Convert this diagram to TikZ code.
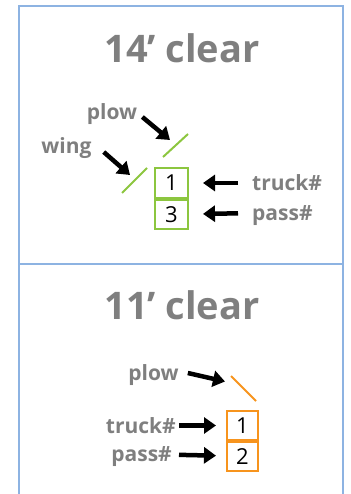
\documentclass[tikz,border=0pt]{standalone}
\usepackage{fontspec}
\setmainfont{Open Sans}
\usepackage{tikz}
\usetikzlibrary{arrows}
\usetikzlibrary{arrows.meta}
\usepackage{xcolor}
\definecolor{framebl}{HTML}{8DB3E2}
\definecolor{labgray}{HTML}{7F7F7F}
\definecolor{plowgr}{HTML}{8CC63F}
\definecolor{plowor}{HTML}{F7941D}
\newcommand{\clearsize}{\fontsize{38}{38}\selectfont\bfseries}
\newcommand{\labsize}{\fontsize{21}{21}\selectfont\bfseries}
\newcommand{\cellsize}{\fontsize{22}{22}\selectfont}

\begin{document}
\begin{tikzpicture}[x=1pt,y=-1pt]
\tikzstyle{every node}=[inner sep=0pt]
\tikzstyle{title}=[text=labgray,font=\clearsize]
\tikzstyle{lab}=[text=labgray,font=\labsize,text height=15pt,text depth=0pt]
\tikzstyle{cell}=[draw,line width=2pt,font=\cellsize,text height=15.5pt,text depth=0pt]
\tikzstyle{blade}=[line width=2pt]
\tikzstyle{arr}=[line width=4.5pt,-{Triangle[length=12pt,width=16pt]}]
\useasboundingbox (0,0) rectangle (350,494);
\draw[framebl,line width=2pt] (19,520) -- (19,6) -- (343,6) -- (343,520);
\draw[framebl,line width=2pt] (19,264) -- (343,264);
\node[title] (hdA) at (182,48) {14’ clear};
\node[cell,plowgr,text=black,minimum width=33pt,minimum height=30pt] (cA1) at (171.5,183) {1};
\node[cell,plowgr,text=black,minimum width=33pt,minimum height=29pt,anchor=north] (cA2) at (cA1.south) {3};
\node[lab,anchor=west] (truckA) at (252,183) {truck\#};
\node[lab,anchor=west] (passA) at (252,212.5) {pass\#};
\path (truckA) edge[arr,shorten <=14pt,shorten >=14pt] (cA1);
\path (passA) edge[arr,shorten <=14pt,shorten >=14pt] (cA2);
\node[lab] (plowA) at (112,112) {plow};
\node[lab] (wingA) at (66.5,146) {wing};
\draw[plowgr,blade] (163,157) -- (188,134);
\draw[plowgr,blade] (122,193) -- (147,168);
\coordinate (tipP) at (170,140);
\coordinate (tipW) at (130,175);
\draw[arr] ([shift={(5,5)}]plowA.east) -- (tipP);
\draw[arr] ([shift={(12,6)}]wingA.east) -- (tipW);
\node[title] (hdB) at (182,305) {11’ clear};
\node[cell,plowor,text=black,minimum width=31pt,minimum height=29pt] (cB1) at (242.5,425.5) {1};
\node[cell,plowor,text=black,minimum width=31pt,minimum height=28.5pt,anchor=north] (cB2) at (cB1.south) {2};
\node[lab,anchor=east] (truckB) at (176,425.5) {truck\#};
\node[lab,anchor=east] (passB) at (172,454) {pass\#};
\path (truckB) edge[arr,shorten <=3pt,shorten >=10pt] (cB1);
\path (passB) edge[arr,shorten <=7pt,shorten >=10pt] (cB2);
\node[lab] (plowB) at (153.5,373) {plow};
\draw[plowor,blade] (231,376) -- (256,401);
\coordinate (tipB) at (225,381.5);
\draw[arr] ([shift={(9,0)}]plowB.east) -- (tipB);
\end{tikzpicture}
\end{document}
